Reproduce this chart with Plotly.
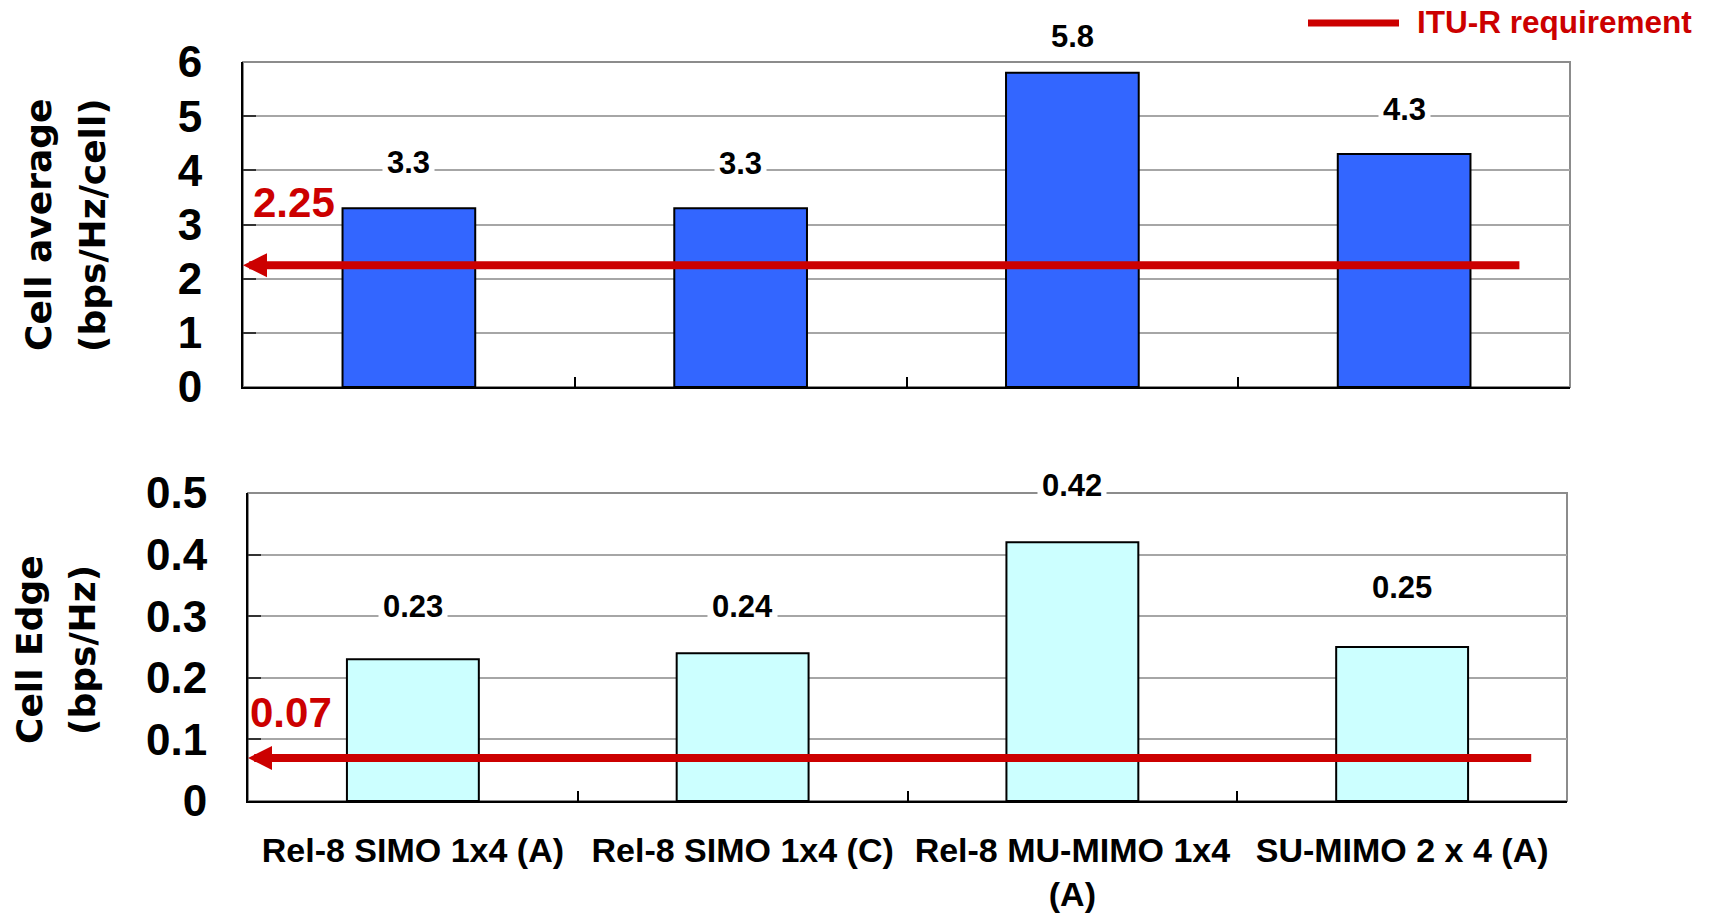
import plotly.graph_objects as go

# ---- data ----
categories = ["Rel-8 SIMO 1x4 (A)", "Rel-8 SIMO 1x4 (C)",
              "Rel-8 MU-MIMO 1x4<br>(A)", "SU-MIMO 2 x 4 (A)"]
cell_average = [3.3, 3.3, 5.8, 4.3]
cell_edge = [0.23, 0.24, 0.42, 0.25]
itu_average = 2.25
itu_edge = 0.07
legend_name = "ITU-R requirement"

# ---- styling ----
W, H = 1713, 917
RED = "#CC0000"
FONT = "Liberation Sans, Arial, sans-serif"
TITLE_FONT = "DejaVu Sans, sans-serif"
avg_label_lift = [46, 45, 36, 45]
edge_label_lift = [53, 47, 57, 60]


def px_x(p):
    return p / W


def px_y(p):
    return 1 - p / H


top_dom_x = [px_x(243), px_x(1570)]
top_dom_y = [px_y(387), px_y(62)]
bot_dom_x = [px_x(248), px_x(1567)]
bot_dom_y = [px_y(801), px_y(493)]

fig = go.Figure()

fig.add_trace(go.Bar(x=categories, y=cell_average, xaxis="x", yaxis="y",
                     marker=dict(color="#3366FF", line=dict(color="black", width=2)),
                     showlegend=False, hoverinfo="skip"))
fig.add_trace(go.Bar(x=categories, y=cell_edge, xaxis="x2", yaxis="y2",
                     marker=dict(color="#CCFFFF", line=dict(color="black", width=2)),
                     showlegend=False, hoverinfo="skip"))

axis_common = dict(showgrid=False, zeroline=False, showline=True, linecolor="black",
                   linewidth=2, ticks="inside", tickson="boundaries", ticklen=10,
                   tickwidth=1.5, tickcolor="black", fixedrange=True, automargin=False)
yaxis_common = dict(showgrid=True, gridcolor="#A6A6A6", gridwidth=1.5, zeroline=False,
                    showline=True, linecolor="black", linewidth=2, ticks="inside",
                    ticklen=13, tickwidth=2, tickcolor="#333333",
                    tickfont=dict(family=FONT, size=44, color="black", weight="bold"),
                    ticklabelstandoff=30, fixedrange=True, automargin=False)

fig.update_layout(
    width=W, height=H,
    margin=dict(l=0, r=0, t=0, b=0, autoexpand=False),
    paper_bgcolor="white", plot_bgcolor="white",
    bargap=0.6,
    xaxis=dict(domain=top_dom_x, anchor="y", showticklabels=False, **axis_common),
    yaxis=dict(domain=top_dom_y, anchor="x", range=[0, 6], dtick=1, **yaxis_common),
    xaxis2=dict(domain=bot_dom_x, anchor="y2", showticklabels=True,
                tickfont=dict(family=FONT, size=34, color="black", weight="bold"),
                ticklabelstandoff=18, **axis_common),
    yaxis2=dict(domain=bot_dom_y, anchor="x2", range=[0, 0.5], dtick=0.1, **yaxis_common),
)

shapes = []
# grey plot-area frame (top/right edges)
for xr, yr in (("x", "y"), ("x2", "y2")):
    shapes.append(dict(type="rect", xref=f"{xr} domain", yref=f"{yr} domain",
                       x0=0, x1=1, y0=0, y1=1, line=dict(color="#8C8C8C", width=2),
                       layer="below"))
# legend sample line
shapes.append(dict(type="line", xref="paper", yref="paper",
                   x0=px_x(1308), x1=px_x(1399), y0=px_y(23), y1=px_y(23),
                   line=dict(color=RED, width=7)))
fig.update_layout(shapes=shapes)

ann = []
# value labels above bars
for cat, v, lift in zip(categories, cell_average, avg_label_lift):
    ann.append(dict(x=cat, y=v, xref="x", yref="y", text=f"{v:g}", showarrow=False,
                    yshift=lift, yanchor="middle", bgcolor="white", borderpad=4,
                    font=dict(family=FONT, size=31, color="black", weight="bold")))
for cat, v, lift in zip(categories, cell_edge, edge_label_lift):
    ann.append(dict(x=cat, y=v, xref="x2", yref="y2", text=f"{v:g}", showarrow=False,
                    yshift=lift, yanchor="middle", bgcolor="white", borderpad=4,
                    font=dict(family=FONT, size=31, color="black", weight="bold")))

# requirement arrows pointing at the value axis, with their value in red
for xr, yr, val, tail, text_x, lift in (("x", "y", itu_average, 0.963, 0.006, 63),
                                        ("x2", "y2", itu_edge, 0.974, 0.0, 45)):
    ann.append(dict(x=0, y=val, xref=f"{xr} domain", yref=yr,
                    ax=tail, ay=val, axref=f"{xr} domain", ayref=yr,
                    showarrow=True, arrowhead=2, arrowsize=0.6, arrowwidth=8,
                    arrowcolor=RED, text=""))
    ann.append(dict(x=text_x, y=val, xref=f"{xr} domain", yref=yr, text=f"{val:g}",
                    showarrow=False, xanchor="left", yanchor="middle", yshift=lift,
                    font=dict(family=FONT, size=42, color=RED, weight="bold")))

# legend text
ann.append(dict(x=px_x(1415), y=px_y(22), xref="paper", yref="paper", text=legend_name,
                showarrow=False, xanchor="left", yanchor="middle",
                font=dict(family=FONT, size=31.5, color=RED, weight="bold")))

# rotated axis titles
title_font = dict(family=TITLE_FONT, size=36, color="black", weight="bold")
for text, cx, cy in (("Cell average", 39, 225), ("(bps/Hz/cell)", 93, 225),
                     ("Cell Edge", 29, 650), ("(bps/Hz)", 82, 650)):
    ann.append(dict(x=px_x(cx), y=px_y(cy), xref="paper", yref="paper", text=text,
                    textangle=-90, showarrow=False, xanchor="center", yanchor="middle",
                    font=title_font))

fig.update_layout(annotations=ann)

fig.write_html("out.html")
